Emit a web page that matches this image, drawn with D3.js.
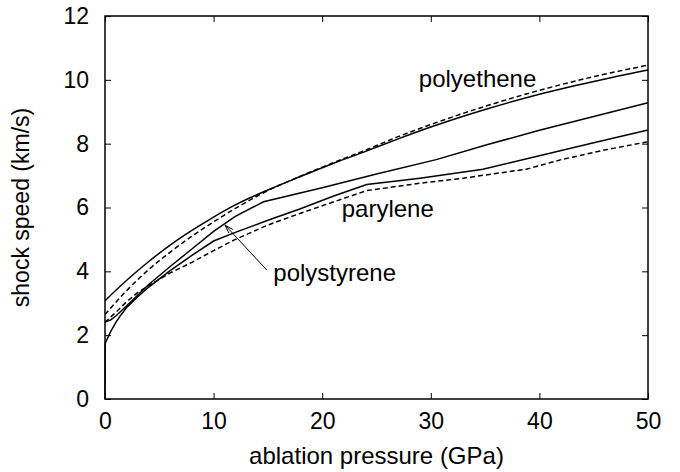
<!DOCTYPE html>
<html>
<head>
<meta charset="utf-8">
<script src="https://cdn.jsdelivr.net/npm/d3@7"></script>
<style>
  body { margin: 0; background: #fff; }
  text { font-family: "Liberation Sans", Arial, sans-serif; fill: #000; }
</style>
</head>
<body>
<svg id="chart" width="680" height="472"></svg>
<script>
// ablation pressure (GPa) vs shock speed (km/s)
var polyetheneSolid = [[0,3.08],[2,3.72],[4,4.3],[6,4.82],[8,5.28],[10,5.7],[12,6.08],[15,6.55],[18,6.97],[21,7.38],[24,7.76],[27,8.15],[30,8.52],[35,9.07],[40,9.55],[45,9.95],[50,10.31]];
var polyetheneDashed = [[0,2.65],[2,3.4],[4,4.05],[6,4.6],[8,5.1],[10,5.55],[12,5.97],[15,6.53],[18,6.98],[21,7.4],[24,7.8],[27,8.22],[30,8.6],[35,9.17],[40,9.67],[45,10.1],[50,10.46]];
var polystyreneSolid = [[0,2.42],[0.5,2.47],[1,2.6],[2,2.92],[3,3.25],[4,3.58],[6,4.15],[8,4.7],[10,5.25],[12,5.72],[14.6,6.18],[20,6.62],[25,7.05],[30.5,7.5],[35,7.95],[40,8.42],[45,8.85],[50,9.28]];
var paryleneSolid = [[0,0],[0.02,1.75],[0.5,2.1],[1,2.4],[1.5,2.65],[2,2.87],[3,3.2],[4,3.5],[6,4.02],[8,4.5],[10,4.95],[12,5.22],[15,5.6],[18,5.96],[21,6.35],[24.1,6.72],[29,6.92],[34.8,7.2],[40,7.62],[45,8.03],[50,8.43]];
var paryleneDashed = [[0,2.4],[1,2.72],[2,3.05],[3,3.33],[4,3.55],[6,3.95],[8,4.28],[10,4.65],[12,5.0],[15,5.45],[18,5.82],[21,6.17],[24.1,6.53],[29,6.76],[33,6.92],[38.8,7.2],[42,7.5],[46,7.8],[50,8.06]];

var xTicks = [0, 10, 20, 30, 40, 50];
var yTicks = [0, 2, 4, 6, 8, 10, 12];
var curveLabels = ["polyethene", "parylene", "polystyrene"];

var series = [
  {pts: polyetheneDashed, dash: "5,3", smooth: true},
  {pts: paryleneDashed, dash: "5,3", smooth: false},
  {pts: polyetheneSolid, dash: null, smooth: true},
  {pts: polystyreneSolid, dash: null, smooth: false},
  {pts: paryleneSolid, dash: null, smooth: false}
];

// label anchors in data units (left edge, baseline)
var labelPos = [[28.9, 9.77], [21.8, 5.70], [15.5, 3.70]];
var arrowFrom = [14.9, 4.04], arrowTo = [11.05, 5.45];

var margin = {top: 16, right: 32, bottom: 73, left: 105},
    width = 680 - margin.left - margin.right,
    height = 472 - margin.top - margin.bottom;

var svg = d3.select("#chart");
var g = svg.append("g").attr("transform", "translate(" + margin.left + "," + margin.top + ")");

var x = d3.scaleLinear().domain([0, 50]).range([0, width]);
var y = d3.scaleLinear().domain([0, 12]).range([height, 0]);

var tickLen = 6, fs = 23, fsLabel = 24;

// inward ticks on all four sides, labels only left and bottom
g.append("g").attr("transform", "translate(0," + height + ")")
  .call(d3.axisBottom(x).tickValues(xTicks).tickSizeInner(-tickLen).tickSizeOuter(0).tickPadding(14))
  .call(function(a) {
    a.select(".domain").remove();
    a.selectAll("text").attr("font-size", fs).attr("font-family", null).attr("dy", "0.71em");
  });
g.append("g")
  .call(d3.axisTop(x).tickValues(xTicks).tickSizeInner(-tickLen).tickSizeOuter(0).tickFormat(""))
  .call(function(a) { a.select(".domain").remove(); });
g.append("g")
  .call(d3.axisLeft(y).tickValues(yTicks).tickSizeInner(-tickLen).tickSizeOuter(0).tickPadding(16))
  .call(function(a) {
    a.select(".domain").remove();
    a.selectAll("text").attr("font-size", fs).attr("font-family", null);
  });
g.append("g").attr("transform", "translate(" + width + ",0)")
  .call(d3.axisRight(y).tickValues(yTicks).tickSizeInner(-tickLen).tickSizeOuter(0).tickFormat(""))
  .call(function(a) { a.select(".domain").remove(); });

g.selectAll(".tick line").attr("stroke", "#000").attr("stroke-width", 1);

var lineSharp = d3.line()
  .x(function(d) { return x(d[0]); })
  .y(function(d) { return y(d[1]); });
var lineSmooth = d3.line()
  .curve(d3.curveMonotoneX)
  .x(function(d) { return x(d[0]); })
  .y(function(d) { return y(d[1]); });

g.selectAll("path.curve")
  .data(series)
  .enter()
  .append("path")
  .attr("class", "curve")
  .attr("d", function(d) { return d.smooth ? lineSmooth(d.pts) : lineSharp(d.pts); })
  .attr("fill", "none")
  .attr("stroke", "#000")
  .attr("stroke-width", 1.5)
  .attr("stroke-dasharray", function(d) { return d.dash; });

// frame
g.append("rect")
  .attr("width", width).attr("height", height)
  .attr("fill", "none").attr("stroke", "#000").attr("stroke-width", 1.5);

g.selectAll("text.curvelabel")
  .data(curveLabels)
  .enter()
  .append("text")
  .attr("class", "curvelabel")
  .attr("x", function(d, i) { return x(labelPos[i][0]); })
  .attr("y", function(d, i) { return y(labelPos[i][1]); })
  .attr("font-size", fsLabel)
  .text(function(d) { return d; });

// arrow to polystyrene curve
var ax0 = x(arrowFrom[0]), ay0 = y(arrowFrom[1]),
    ax1 = x(arrowTo[0]), ay1 = y(arrowTo[1]);
var ang = Math.atan2(ay1 - ay0, ax1 - ax0), head = 9, spread = 0.3;
g.append("line")
  .attr("x1", ax0).attr("y1", ay0).attr("x2", ax1).attr("y2", ay1)
  .attr("stroke", "#000").attr("stroke-width", 1);
g.append("path")
  .attr("d", "M" + (ax1 - head * Math.cos(ang - spread)) + "," + (ay1 - head * Math.sin(ang - spread)) +
             "L" + ax1 + "," + ay1 +
             "L" + (ax1 - head * Math.cos(ang + spread)) + "," + (ay1 - head * Math.sin(ang + spread)))
  .attr("fill", "none").attr("stroke", "#000").attr("stroke-width", 1);

svg.append("text")
  .attr("x", margin.left + width / 2)
  .attr("y", 464)
  .attr("text-anchor", "middle")
  .attr("font-size", fsLabel)
  .text("ablation pressure (GPa)");

svg.append("text")
  .attr("transform", "translate(29," + (margin.top + height / 2) + ") rotate(-90)")
  .attr("text-anchor", "middle")
  .attr("font-size", fs)
  .text("shock speed (km/s)");
</script>
</body>
</html>
